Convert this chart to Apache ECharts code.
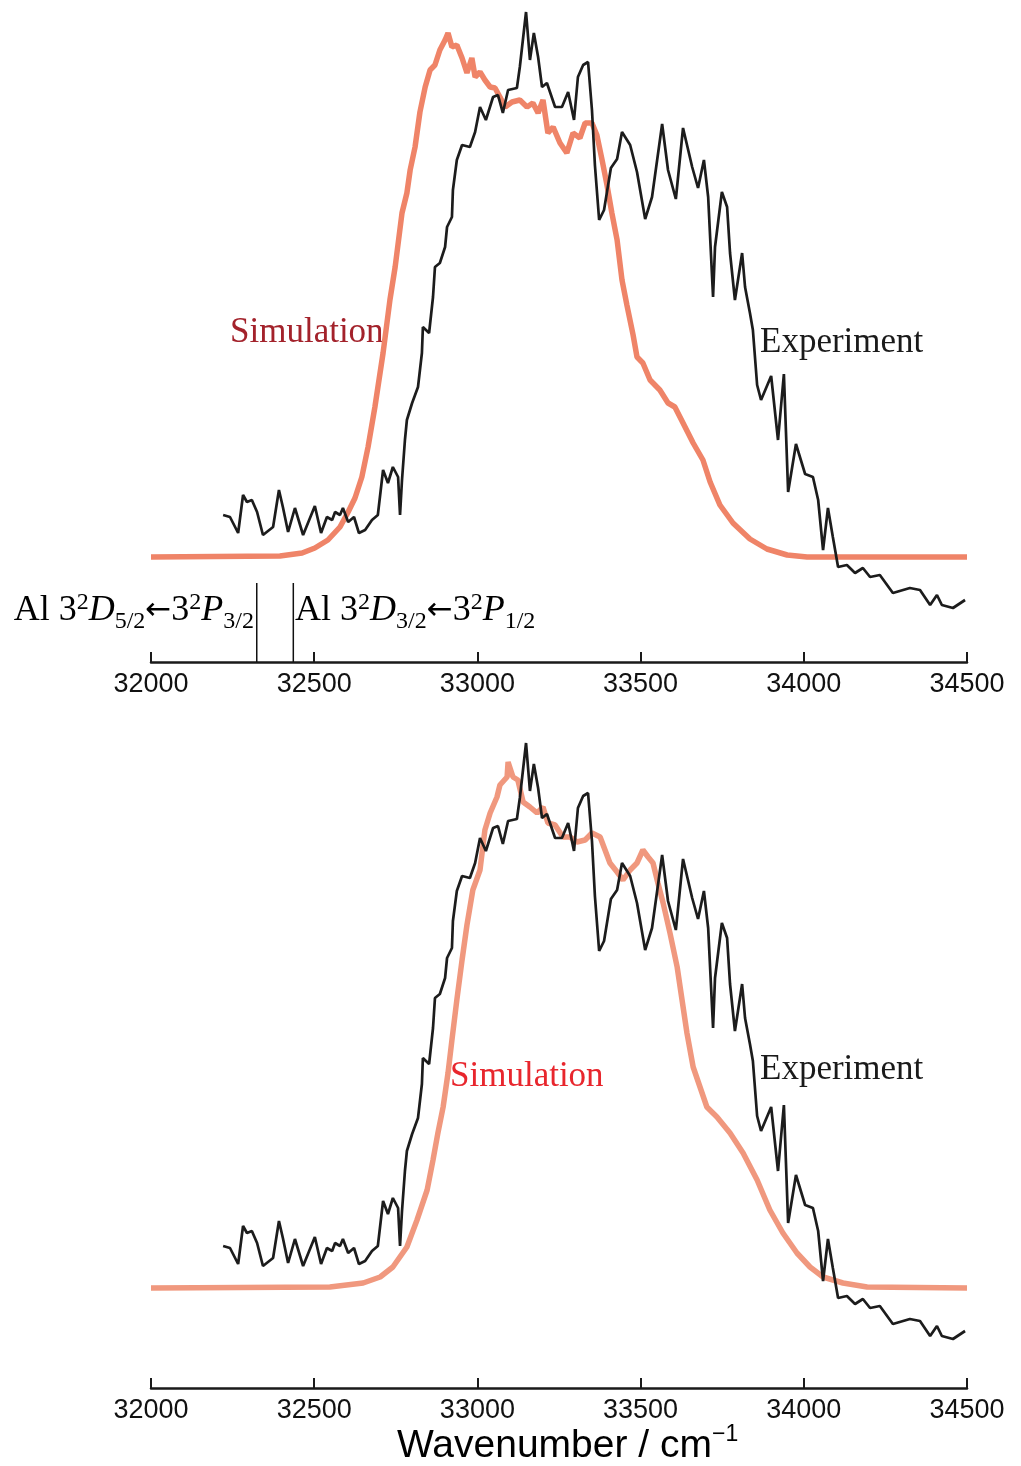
<!DOCTYPE html>
<html>
<head>
<meta charset="utf-8">
<script src="https://cdn.jsdelivr.net/npm/echarts@6/dist/echarts.min.js"></script>
<style>
html,body{margin:0;padding:0;background:#fff;}
#chart{width:1021px;height:1466px;}
</style>
</head>
<body>
<div id="chart"></div>
<script>
// ---- Data (wavenumber / cm^-1, relative intensity) ----
var xTicks = [32000, 32500, 33000, 33500, 34000, 34500];

var expWavenumber = [32221,32242,32267,32282,32294,32309,32325,32343,32374,32392,32404,32420,32441,32466,32502,32521,32539,32555,32564,32579,32588,32604,32622,32637,32656,32677,32695,32711,32726,32741,32757,32763,32769,32778,32784,32800,32818,32830,32833,32852,32864,32870,32885,32901,32907,32922,32925,32937,32953,32977,32993,33008,33026,33048,33063,33078,33094,33121,33130,33149,33161,33173,33186,33198,33213,33238,33259,33278,33296,33308,33324,33339,33351,33360,33373,33388,33409,33428,33443,33468,33489,33514,33535,33566,33584,33608,33630,33658,33676,33694,33707,33722,33728,33749,33765,33774,33789,33811,33820,33835,33844,33857,33869,33900,33921,33939,33952,33976,34004,34028,34044,34059,34074,34089,34105,34132,34157,34181,34203,34233,34273,34325,34356,34387,34408,34423,34457,34494];
var expIntensity = [42,40,24,62,55,57,45,22,30,67,50,25,49,22,51,24,40,37,45,42,49,35,40,24,27,37,42,87,74,90,80,42,77,117,137,154,170,204,230,224,260,290,294,310,330,340,367,397,412,410,425,450,437,460,462,444,467,469,490,545,497,524,500,470,474,450,450,465,437,480,492,495,447,392,337,347,389,398,425,412,385,338,360,433,387,358,429,390,369,397,360,260,310,365,350,304,257,304,270,244,227,172,157,181,117,183,65,113,83,80,57,7,49,20,-10,-8,-16,-11,-20,-18,-36,-31,-33,-48,-38,-48,-51,-43];

var simTopWavenumber = [32000,32395,32463,32502,32542,32579,32604,32625,32646,32665,32686,32711,32732,32748,32769,32784,32794,32809,32824,32840,32855,32870,32885,32901,32910,32922,32937,32953,32968,32983,32993,33008,33023,33039,33054,33069,33085,33106,33130,33152,33170,33186,33201,33216,33232,33253,33274,33293,33314,33330,33351,33366,33382,33397,33412,33428,33443,33458,33477,33489,33507,33529,33559,33584,33605,33630,33661,33691,33713,33743,33783,33835,33887,33949,34010,34500];
var simTopIntensity = [0,1,4,9,17,30,45,59,80,110,150,204,257,290,344,364,387,410,445,470,487,492,507,517,524,510,512,499,484,499,480,485,477,470,469,460,450,455,457,450,454,444,457,424,430,414,404,424,419,434,434,422,397,372,344,317,277,252,222,200,194,177,167,154,150,134,114,97,75,52,34,18,8,2,0,0];

var simBottomWavenumber = [32000,32548,32650,32702,32741,32784,32815,32846,32864,32879,32895,32910,32922,32937,32953,32968,32986,33008,33023,33039,33060,33069,33091,33094,33109,33124,33140,33161,33183,33201,33216,33238,33262,33284,33305,33330,33351,33376,33391,33406,33428,33446,33468,33489,33507,33523,33538,33553,33569,33590,33612,33627,33642,33661,33682,33703,33734,33774,33814,33857,33896,33936,33979,34019,34059,34120,34194,34500];
var simBottomIntensity = [0,1,5,11,21,41,68,98,128,155,181,215,248,288,328,363,398,418,458,475,491,503,511,526,511,508,486,481,475,481,465,463,451,451,446,448,455,451,438,425,416,408,418,425,438,431,425,405,385,355,321,288,255,221,201,181,171,155,135,108,78,55,35,21,11,5,1,0];

// Atomic Al transition lines (cm^-1) drawn below the top spectrum
var transitionWavenumber = [32324, 32436];
var transitionSpan = [-26, -105];

function pairs(xs, ys) { return xs.map(function (x, i) { return [x, ys[i]]; }); }

var chart = echarts.init(document.getElementById('chart'), null, {renderer: 'canvas'});

var serif = '"Liberation Serif", "Times New Roman", serif';
var sans = '"Liberation Sans", Arial, Helvetica, sans-serif';

function xAxisCfg(gridIndex) {
  return {
    type: 'value', gridIndex: gridIndex, min: 32000, max: 34500, interval: 500,
    axisLine: {show: true, onZero: false, lineStyle: {color: '#1a1a1a', width: 2.5}},
    axisTick: {show: true, inside: true, length: 10, lineStyle: {color: '#1a1a1a', width: 2}},
    axisLabel: {show: true, margin: 9, fontSize: 27, color: '#111', fontFamily: sans,
      formatter: function (v) { return xTicks.indexOf(v) >= 0 ? String(v) : ''; }},
    splitLine: {show: false}
  };
}

var series = [
  {type: 'line', xAxisIndex: 0, yAxisIndex: 0, data: pairs(simTopWavenumber, simTopIntensity),
   showSymbol: false, clip: false, lineStyle: {color: '#ef8468', width: 5.5}, z: 2},
  {type: 'line', xAxisIndex: 0, yAxisIndex: 0, data: pairs(expWavenumber, expIntensity),
   showSymbol: false, clip: false, lineStyle: {color: '#1c1c1c', width: 2.7}, z: 3},
  {type: 'line', xAxisIndex: 1, yAxisIndex: 1, data: pairs(simBottomWavenumber, simBottomIntensity),
   showSymbol: false, clip: false, lineStyle: {color: '#f0987e', width: 5.5}, z: 2},
  {type: 'line', xAxisIndex: 1, yAxisIndex: 1, data: pairs(expWavenumber, expIntensity),
   showSymbol: false, clip: false, lineStyle: {color: '#1c1c1c', width: 2.7}, z: 3}
];
transitionWavenumber.forEach(function (w) {
  series.push({type: 'line', xAxisIndex: 0, yAxisIndex: 0,
    data: [[w, transitionSpan[0]], [w, transitionSpan[1]]],
    showSymbol: false, clip: false, lineStyle: {color: '#111', width: 1.5}, z: 4});
});

var rich = {
  m: {fontFamily: serif, fontSize: 36, color: '#1a1a1a', lineHeight: 46, verticalAlign: 'middle'},
  i: {fontFamily: serif, fontSize: 36, fontStyle: 'italic', color: '#1a1a1a', lineHeight: 46, verticalAlign: 'middle'},
  ar: {fontFamily: '"DejaVu Sans", sans-serif', fontSize: 31, color: '#1a1a1a', lineHeight: 46, verticalAlign: 'middle'},
  sup: {fontFamily: serif, fontSize: 24, color: '#1a1a1a', lineHeight: 46, verticalAlign: 'top', padding: [3, 0, 0, 0]},
  sub: {fontFamily: serif, fontSize: 24, color: '#1a1a1a', lineHeight: 46, verticalAlign: 'bottom'}
};

var option = {
  animation: false,
  backgroundColor: '#fff',
  grid: [
    {left: 151, right: 54, top: 10, height: 652},
    {left: 151, right: 54, top: 736, height: 652}
  ],
  xAxis: [xAxisCfg(0), xAxisCfg(1)],
  yAxis: [
    {type: 'value', gridIndex: 0, min: -105, max: 547, show: false},
    {type: 'value', gridIndex: 1, min: -100, max: 552, show: false}
  ],
  series: series,
  graphic: [
    {type: 'text', left: 230, top: 315, style: {text: 'Simulation', font: '35px ' + serif, fill: '#a3222b'}},
    {type: 'text', left: 760, top: 325, style: {text: 'Experiment', font: '35px ' + serif, fill: '#1a1a1a'}},
    {type: 'text', left: 450, top: 1059, style: {text: 'Simulation', font: '35px ' + serif, fill: '#e8262d'}},
    {type: 'text', left: 760, top: 1052, style: {text: 'Experiment', font: '35px ' + serif, fill: '#1a1a1a'}},
    {type: 'text', right: 1021 - 254, top: 588, style: {
      text: '{m|Al 3}{sup|2}{i|D}{sub|5/2}{ar|\u2190}{m|3}{sup|2}{i|P}{sub|3/2}', rich: rich}},
    {type: 'text', left: 295, top: 588, style: {
      text: '{m|Al 3}{sup|2}{i|D}{sub|3/2}{ar|\u2190}{m|3}{sup|2}{i|P}{sub|1/2}', rich: rich}},
    {type: 'text', left: 397, top: 1423, style: {
      text: '{a|Wavenumber / cm}{s|\u22121}',
      rich: {
        a: {fontFamily: sans, fontSize: 39, color: '#1a1a1a', lineHeight: 43, verticalAlign: 'bottom'},
        s: {fontFamily: sans, fontSize: 23, color: '#1a1a1a', lineHeight: 43, verticalAlign: 'top'}
      }}}
  ]
};
chart.setOption(option);
</script>
</body>
</html>
